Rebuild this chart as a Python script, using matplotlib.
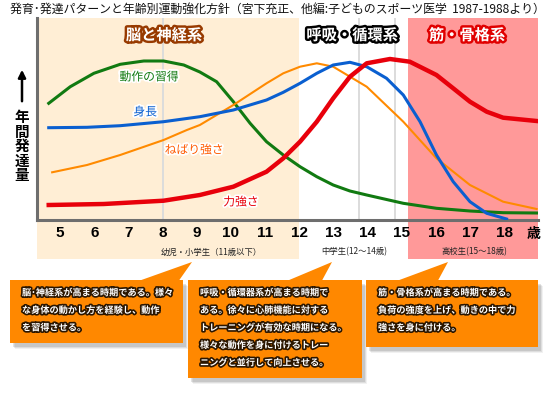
import matplotlib
matplotlib.use('Agg')
import matplotlib.pyplot as plt
import matplotlib.patheffects as pe
from matplotlib.patches import Rectangle, Polygon

plt.rcParams['font.family'] = ['Noto Sans CJK JP', 'DejaVu Sans']

title = '発育･発達パターンと年齢別運動強化方針（宮下充正、他編:子どものスポーツ医学  1987-1988より）'
ages = [5, 6, 7, 8, 9, 10, 11, 12, 13, 14, 15, 16, 17, 18]

# curves (x = age, y = relative growth)
green_x = [4.67, 5.30, 5.99, 6.76, 7.45, 8.03, 8.62, 9.09, 9.58, 10.07, 10.56, 11.04,
           11.53, 12.02, 12.51, 12.99, 13.48, 13.97, 15.04, 16.01, 16.99, 17.96, 18.94]
green_y = [116.7, 133.3, 146.7, 155.7, 159, 159, 155, 148, 138.3, 118.3, 96.7, 78.3,
           65, 53.3, 43.3, 35, 29, 25, 16.7, 11.7, 9, 7.3, 7]
blue_x = [4.67, 5.79, 6.76, 8.03, 9.09, 10.07, 11.04, 11.53, 12.02, 12.51, 12.99, 13.48,
          13.97, 14.55, 15.04, 15.53, 16.01, 16.50, 16.99, 17.48, 18.06]
blue_y = [92.3, 92.7, 94.3, 98.3, 103.3, 110, 120, 127.7, 136.7, 146.7, 155, 157.7,
          153.3, 141.7, 125, 98.3, 65, 38.3, 18.3, 6.7, 1]
orange_x = [4.77, 5.79, 6.76, 8.03, 8.71, 9.09, 10.07, 11.04, 11.53, 12.02, 12.51, 12.99,
            13.48, 13.97, 15.04, 16.01, 16.99, 17.96, 18.94]
orange_y = [47.7, 55, 65, 80, 90, 95, 115, 136.7, 146.7, 153.3, 156.7, 153.3,
            143.3, 133.3, 98.3, 61.7, 35, 18.3, 11]
red_x = [4.67, 6.28, 8.03, 9.09, 10.07, 11.04, 11.53, 12.02, 12.51, 12.99, 13.48, 13.97,
         14.65, 15.23, 16.01, 16.50, 16.99, 17.48, 17.96, 18.94]
red_y = [15, 16, 19.3, 25, 33.3, 48.3, 61.7, 78.3, 98.3, 121.7, 143.3, 156.7,
         161, 158.3, 145, 131.7, 118.3, 108.3, 102.3, 99]

curve_labels = ['動作の習得', '身長', 'ねばり強さ', '力強さ']
region_labels = ['脳と神経系', '呼吸・循環系', '筋・骨格系']
stage_labels = ['幼児・小学生（11歳以下）', '中学生(12〜14歳)', '高校生(15〜18歳)']
box_texts = [
    ['脳･神経系が高まる時期である。様々', 'な身体の動かし方を経験し、動作', 'を習得させる。'],
    ['呼吸・循環器系が高まる時期で', 'ある。徐々に心肺機能に対する', 'トレーニングが有効な時期になる。',
     '様々な動作を身に付けるトレー', 'ニングと並行して向上させる。'],
    ['筋・骨格系が高まる時期である。', '負荷の強度を上げ、動きの中で力', '強さを身に付ける。'],
]

W, H = 550, 396
fig = plt.figure(figsize=(5.5, 3.96), dpi=100)
ax = fig.add_axes([37 / W, (H - 220) / H, 501 / W, 202 / H])
ax.set_facecolor('none')
x0, x1 = 4.327, 18.98
ax.set_xlim(x0, x1)
ax.set_ylim(0, 202)

# background zones (extend below the axis)
ax.add_patch(Rectangle((x0, -39), 12 - x0, 241, color='#ffeed5', zorder=0, clip_on=False, lw=0))
ax.add_patch(Rectangle((15.17, -39), x1 - 15.17, 241, color='#ff9999', zorder=0, clip_on=False, lw=0))
for gx in [8, 13.75, 14.8]:
    ax.axvline(gx, color='#dcdcdc', lw=1.4, zorder=1)

ax.plot(green_x, green_y, color='#117a11', lw=2.2, zorder=3, solid_joinstyle='round')
ax.plot(orange_x, orange_y, color='#ff8a00', lw=1.5, zorder=3, solid_joinstyle='round')
ax.plot(blue_x, blue_y, color='#0a5fd0', lw=2.2, zorder=4, solid_joinstyle='round')
ax.plot(red_x, red_y, color='#e8000b', lw=3.2, zorder=5, solid_joinstyle='round')

halo = [pe.withStroke(linewidth=2.5, foreground='white')]
for txt, (lx, ly), c in zip(curve_labels, [(7.60, 143), (7.49, 108), (8.92, 70), (10.29, 18)],
                             ['#117a11', '#0a5fd0', '#ff5a00', '#e8000b']):
    ax.text(lx, ly, txt, color=c, fontsize=8.5, ha='center', va='center', zorder=6, path_effects=halo)

for txt, lx, oc in zip(region_labels, [8.04, 13.54, 16.9], ['#983a00', '#000000', '#e00000']):
    ax.text(lx, 185, txt, color='white', fontsize=11, fontweight='bold', ha='center', va='center',
            zorder=6, path_effects=[pe.withStroke(linewidth=3.5, foreground=oc)])

for side in ['top', 'right']:
    ax.spines[side].set_visible(False)
for side in ['left', 'bottom']:
    ax.spines[side].set_color('#6e6e6e')
    ax.spines[side].set_linewidth(2.2)
ax.set_yticks([])
ax.set_xticks(ages)
ax.set_xticklabels([str(a) for a in ages], fontsize=11, fontweight='bold',
                   family=['Liberation Sans Narrow', 'Liberation Sans'])
ax.tick_params(axis='x', length=0, pad=4)
ax.text(18.85, -14, '歳', fontsize=10, fontweight='bold', ha='center', va='center')
for txt, lx in zip(stage_labels, [9.42, 13.6, 17.13]):
    ax.text(lx, -32, txt, fontsize=6, ha='center', va='center', color='#222222')

# overlay in pixel coordinates
ov = fig.add_axes([0, 0, 1, 1], zorder=10)
ov.set_xlim(0, W)
ov.set_ylim(H, 0)
ov.axis('off')
ov.patch.set_alpha(0)

ov.text(10, 9, title, fontsize=8.6, ha='left', va='center', color='#111111')
ov.annotate('', xy=(22, 67), xytext=(22, 104),
            arrowprops=dict(arrowstyle='-|>', color='black', lw=1.8, mutation_scale=11))
for i, ch in enumerate('年間発達量'):
    ov.text(22, 117 + i * 14.6, ch, fontsize=10.5, fontweight='bold', ha='center', va='center')

boxes = [
    ((10, 280, 183, 343), [(140, 280.5), (192, 262), (179, 280.5)], (22, 293)),
    ((188, 280, 362, 378), [(288, 280.5), (332, 262), (322, 280.5)], (200, 293)),
    ((366, 280, 538, 347), [(398, 280.5), (448, 262), (438, 280.5)], (378, 293)),
]
txt_fx = [pe.withStroke(linewidth=2.4, foreground='#2b1600')]
for ((bx0, by0, bx1, by1), tri, (tx, ty)), lines in zip(boxes, box_texts):
    for k, a in [(5, 0.08), (4, 0.12), (3, 0.16)]:
        ov.add_patch(Rectangle((bx0 + k, by0 + k + 1), bx1 - bx0, by1 - by0, color='#555555',
                               alpha=a, lw=0))
    ov.add_patch(Rectangle((bx0, by0), bx1 - bx0, by1 - by0, color='#ff8800', lw=0))
    ov.add_patch(Polygon(tri, closed=True, color='#ff8800', lw=0))
    for j, line in enumerate(lines):
        ov.text(tx, ty + j * 17.5, line, color='white', fontsize=6.6, fontweight='bold',
                ha='left', va='center', path_effects=txt_fx)

fig.savefig('out.png', dpi=100, facecolor='white')
